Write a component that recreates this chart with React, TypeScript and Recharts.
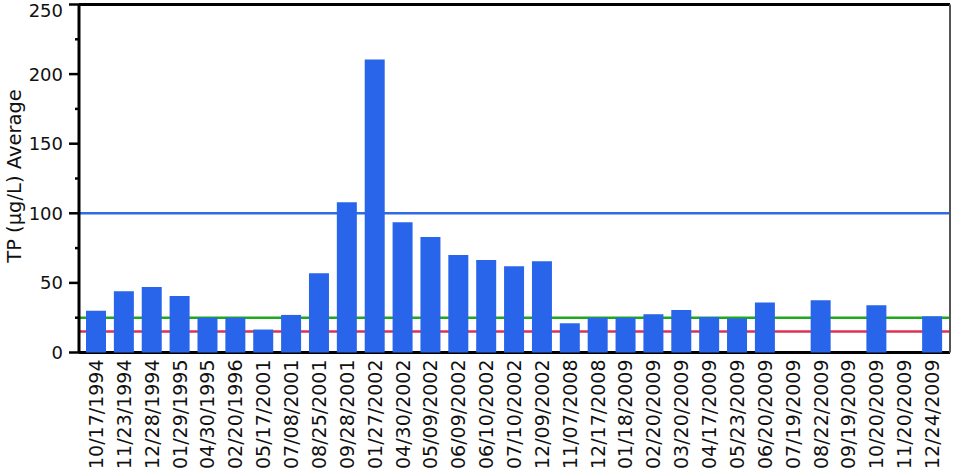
import React from "react";
import { BarChart, Bar, XAxis, YAxis, ReferenceLine } from "recharts";

const dates = [
  "10/17/1994", "11/23/1994", "12/28/1994", "01/29/1995", "04/30/1995", "02/20/1996",
  "05/17/2001", "07/08/2001", "08/25/2001", "09/28/2001", "01/27/2002", "04/30/2002",
  "05/09/2002", "06/09/2002", "06/10/2002", "07/10/2002", "12/09/2002", "11/07/2008",
  "12/17/2008", "01/18/2009", "02/20/2009", "03/20/2009", "04/17/2009", "05/23/2009",
  "06/20/2009", "07/19/2009", "08/22/2009", "09/19/2009", "10/20/2009", "11/20/2009",
  "12/24/2009",
];

const tpAverage: (number | null)[] = [
  30, 44, 47, 40.5, 25, 25,
  16.5, 27, 57, 108, 210.5, 93.5,
  83, 70, 66.5, 62, 65.5, 21,
  25, 25, 27.5, 30.5, 25.5, 24.5,
  36, null, 37.5, null, 34, null,
  26,
];

const yTicks = [0, 25, 50, 75, 100, 125, 150, 175, 200, 225, 250];
const thresholds = [
  { value: 100, color: "#2f6be4" },
  { value: 25, color: "#1fa81f" },
  { value: 15, color: "#dc3252" },
];

const data = dates.map((d, i) => ({ date: d, tp: tpAverage[i] }));

const FONT = "'DejaVu Sans', Verdana, sans-serif";

const YTick = (props: any) => {
  const { x, y, payload } = props;
  const major = payload.value % 50 === 0;
  const ty = Math.max(y, 10);
  return (
    <g>
      <line x1={x - (major ? 10 : 4)} x2={x} y1={y} y2={y} stroke="#000" strokeWidth={2.5} />
      {major && (
        <text x={x - 16} y={ty} textAnchor="end" dominantBaseline="central" fontSize={18} fontFamily={FONT} fill="#111">
          {payload.value}
        </text>
      )}
    </g>
  );
};

const XTick = (props: any) => {
  const { x, y, payload } = props;
  const ty = y + 7;
  return (
    <text
      x={x}
      y={ty}
      transform={`rotate(-90, ${x}, ${ty})`}
      textAnchor="end"
      dominantBaseline="central"
      fontSize={19}
      fontFamily={FONT}
      fill="#111"
    >
      {payload.value}
    </text>
  );
};

const YLabel = () => (
  <text
    x={14}
    y={176}
    transform="rotate(-90, 14, 176)"
    textAnchor="middle"
    dominantBaseline="central"
    fontSize={19.5}
    fontFamily={FONT}
    fill="#111"
  >
    TP (µg/L) Average
  </text>
);

export default function App() {
  return (
    <div style={{ position: "absolute", left: 0, top: 0, background: "#fff" }}>
      <BarChart width={955} height={475} data={data} margin={{ top: 4.5, right: 3, left: 0, bottom: 0 }}>
        <XAxis
          dataKey="date"
          interval={0}
          height={122.5}
          tickSize={0}
          tickMargin={0}
          tickLine={false}
          tick={<XTick />}
          axisLine={{ stroke: "#000", strokeWidth: 3 }}
          padding={{ left: 3, right: 4 }}
        />
        <YAxis
          yAxisId="left"
          width={79}
          domain={[0, 250]}
          ticks={yTicks}
          interval={0}
          tickSize={0}
          tickMargin={0}
          tickLine={false}
          tick={<YTick />}
          axisLine={{ stroke: "#000", strokeWidth: 3 }}
          label={<YLabel />}
        />
        <YAxis
          yAxisId="right"
          orientation="right"
          width={2}
          domain={[0, 250]}
          tick={false}
          tickLine={false}
          axisLine={{ stroke: "#555", strokeWidth: 2 }}
        />
        {thresholds.map((t) => (
          <ReferenceLine key={t.value} yAxisId="left" y={t.value} stroke={t.color} strokeWidth={2.5} zIndex={100} />
        ))}
        <ReferenceLine yAxisId="left" y={250} stroke="#000" strokeWidth={3} />
        <Bar yAxisId="left" dataKey="tp" fill="#2865ea" barSize={20} isAnimationActive={false} zIndex={600} />
      </BarChart>
    </div>
  );
}
